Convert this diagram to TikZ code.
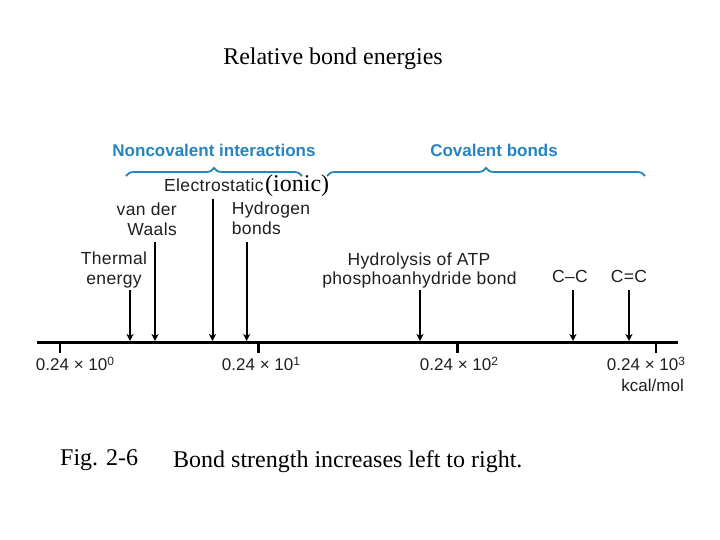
\documentclass[tikz,border=0pt]{standalone}
\usepackage{fontspec}
\setmainfont{Liberation Serif}
\setsansfont{Liberation Sans}
\newfontfamily\lblfont{Liberation Sans}[LetterSpace=2]
\usetikzlibrary{arrows.meta,decorations.pathreplacing}
\definecolor{bondblue}{HTML}{2585BF}
\definecolor{lblgray}{HTML}{202020}
\newcommand\mysupx[1]{\raisebox{4.5pt}{\fontsize{12}{12}\selectfont #1}}
\begin{document}
\begin{tikzpicture}[x=1pt,y=-1pt,
  lbl/.style={font=\lblfont\fontsize{17.5}{21}\selectfont, text=lblgray, inner sep=0pt, anchor=base},
  ticklbl/.style={font=\sffamily\fontsize{17}{21}\selectfont, text=lblgray, inner sep=0pt, anchor=base},
  head/.style={font=\sffamily\bfseries\fontsize{17}{21}\selectfont, text=bondblue, inner sep=0pt, anchor=base},
  serif/.style={font=\rmfamily\fontsize{24}{28}\selectfont, text=black, inner sep=0pt, anchor=base},
  arr/.style={draw=black, line width=2pt, -{Stealth[length=7pt,width=7pt,inset=2pt]}},
  bracepath/.style={draw=bondblue, line width=1.8pt, decorate, decoration={brace, amplitude=8pt}},
  axisline/.style={draw=black, line width=2.8pt},
  tickline/.style={draw=black, line width=2.4pt},
]
\useasboundingbox[fill=white] (0,0) rectangle (720,540);

% title
\node[serif] (title) at (333,65) {Relative bond energies};

% headings and braces
\node[head] (nonc) at (214,156.5) {Noncovalent interactions};
\node[head] (cov) at (494,156.5) {Covalent bonds};
\coordinate (nb1) at (126,176);
\coordinate (nb2) at (302,176);
\coordinate (cb1) at (327,176);
\coordinate (cb2) at (645,176);
\draw[bracepath] (nb1) -- (nb2);
\draw[bracepath] (cb1) -- (cb2);

% axis
\coordinate (ax0) at (37,342.5);
\coordinate (ax1) at (678,342.5);
\draw[axisline] (ax0) -- (ax1);
\coordinate (t0) at (60,341.5);   \coordinate (t0b) at (60,353);
\coordinate (t1) at (258.3,341.5); \coordinate (t1b) at (258.3,353);
\coordinate (t2) at (457.3,341.5); \coordinate (t2b) at (457.3,353);
\coordinate (t3) at (656,341.5);  \coordinate (t3b) at (656,353);
\draw[tickline] (t0) -- (t0b);
\draw[tickline] (t1) -- (t1b);
\draw[tickline] (t2) -- (t2b);
\draw[tickline] (t3) -- (t3b);

% tick labels
\node[ticklbl] (l0) at (75,370) {0.24 × 10\mysupx{0}};
\node[ticklbl] (l1) at (261,370) {0.24 × 10\mysupx{1}};
\node[ticklbl] (l2) at (459,370) {0.24 × 10\mysupx{2}};
\node[ticklbl] (l3) at (646,370) {0.24 × 10\mysupx{3}};
\node[ticklbl, anchor=base east] (unit) at (684,391) {kcal/mol};

% labels
\node[lbl, anchor=base west] (elec) at (164,192) {Electrostatic};
\node[serif, anchor=base west] (ionic) at (265,192) {(ionic)};
\node[lbl, anchor=base east] (vdw1) at (177,215) {van der};
\node[lbl, anchor=base east] (vdw2) at (177,236) {Waals};
\node[lbl, anchor=base west] (hyd1) at (231.7,214.5) {Hydrogen};
\node[lbl, anchor=base west] (hyd2) at (231.7,235) {bonds};
\node[lbl] (th1) at (114,264) {Thermal};
\node[lbl] (th2) at (114,284.5) {energy};
\node[lbl] (atp1) at (419,265) {Hydrolysis of ATP};
\node[lbl] (atp2) at (419.5,284.5) {phosphoanhydride bond};
\node[lbl] (cc) at (570,282) {C–C};
\node[lbl] (cdc) at (629,282) {C=C};

% arrows
\coordinate (aTh) at (130,290);   \coordinate (eTh) at (130,341);
\coordinate (aVw) at (155,242);   \coordinate (eVw) at (155,341);
\coordinate (aEl) at (212.5,199); \coordinate (eEl) at (212.5,341);
\coordinate (aHy) at (246.7,242); \coordinate (eHy) at (246.7,341);
\coordinate (aAt) at (420,290);   \coordinate (eAt) at (420,341);
\coordinate (aCc) at (573,290);   \coordinate (eCc) at (573,341);
\coordinate (aCd) at (629,290);   \coordinate (eCd) at (629,341);
\draw[arr] (aTh) -- (eTh);
\draw[arr] (aVw) -- (eVw);
\draw[arr] (aEl) -- (eEl);
\draw[arr] (aHy) -- (eHy);
\draw[arr] (aAt) -- (eAt);
\draw[arr] (aCc) -- (eCc);
\draw[arr] (aCd) -- (eCd);

% caption
\node[serif, anchor=base west] (fig) at (60,465) {Fig. 2-6};
\node[serif, anchor=base west] (cap) at (173,467) {Bond strength increases left to right.};
\end{tikzpicture}
\end{document}
